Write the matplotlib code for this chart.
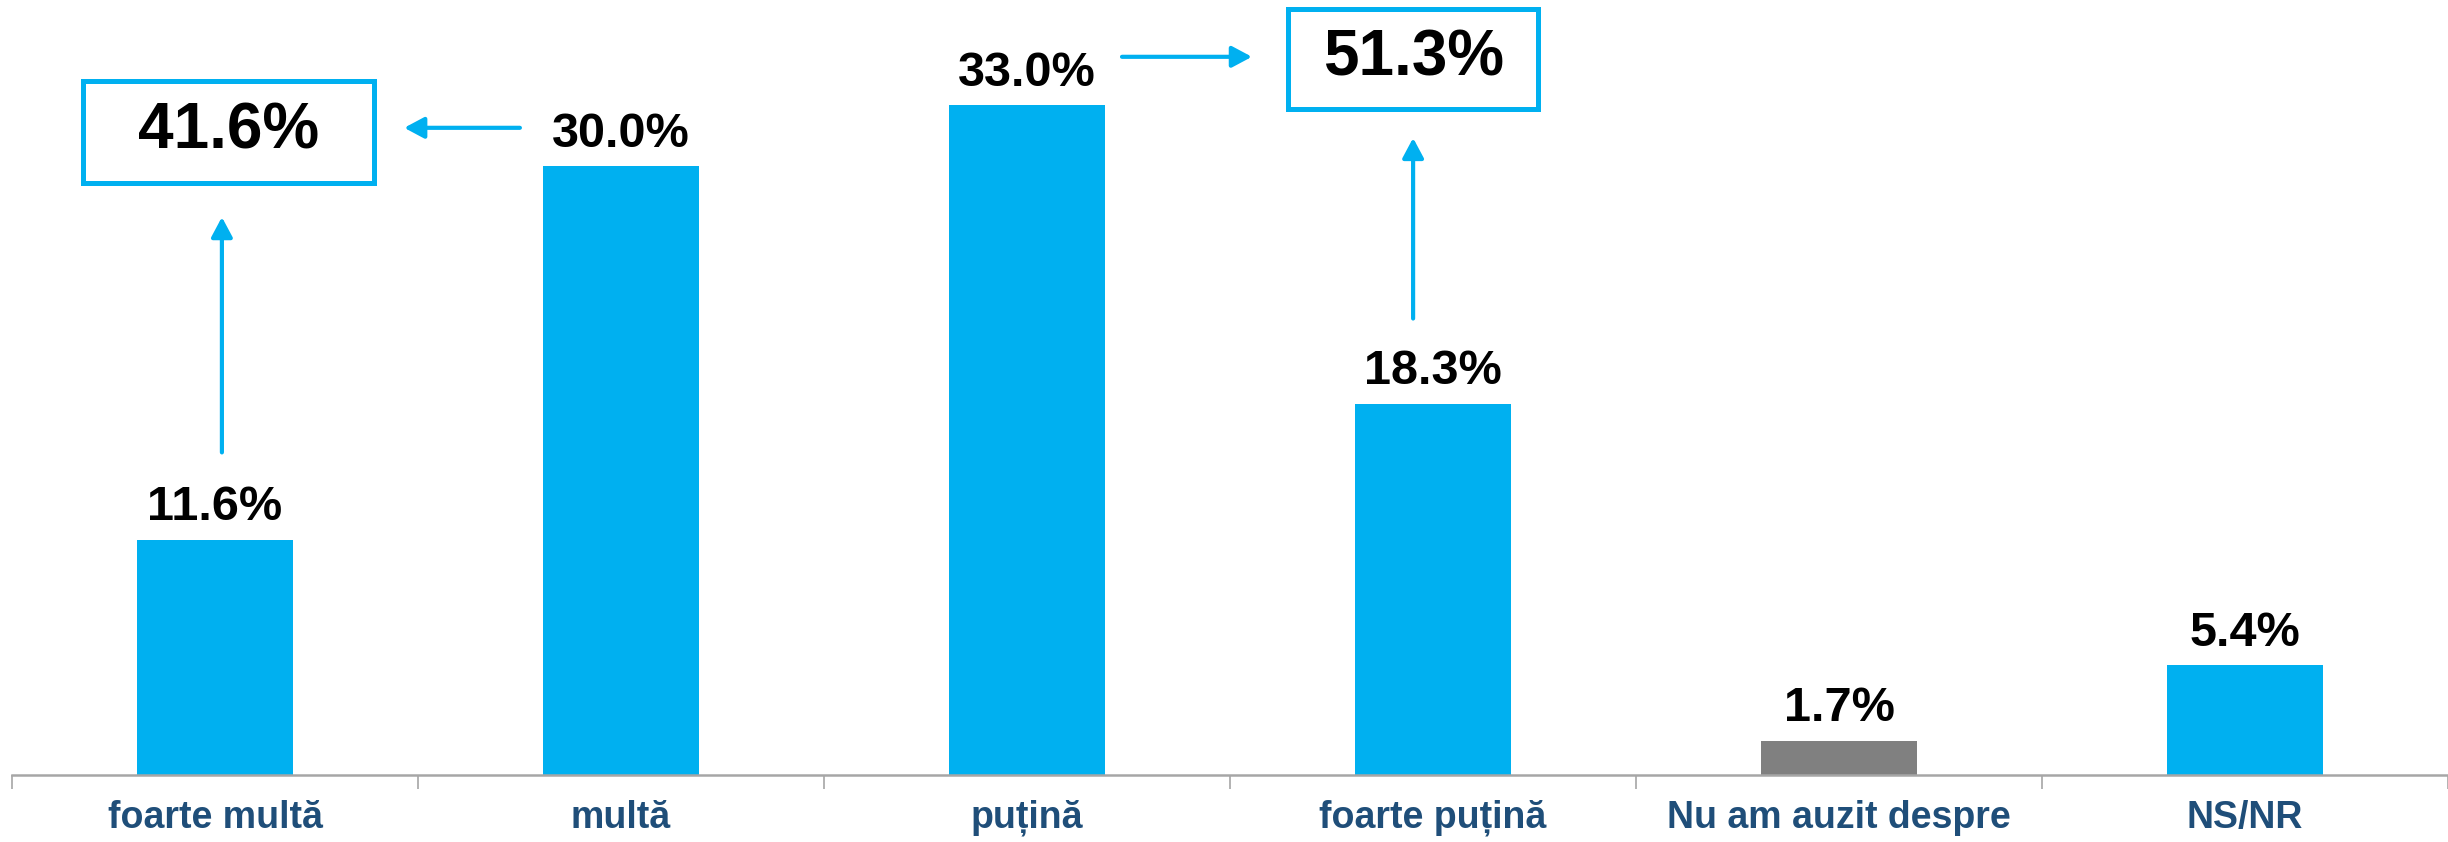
import matplotlib.pyplot as plt
from matplotlib.patches import Rectangle

plt.rcParams['font.family'] = ['Liberation Sans', 'DejaVu Sans']

# -----------------------------
# Dados
# -----------------------------
categories = ["foarte multă", "multă", "puțină", "foarte puțină",
              "Nu am auzit despre", "NS/NR"]
values = [11.6, 30.0, 33.0, 18.3, 1.7, 5.4]
bar_colors = ["#00B0F0", "#00B0F0", "#00B0F0", "#00B0F0", "#808080", "#00B0F0"]

# totais agregados (foarte multă + multă, puțină + foarte puțină)
totals = [41.6, 51.3]
total_labels = [f"{t:.1f}%" for t in totals]

blue = "#00B0F0"
label_blue = "#1F4E79"

W, H = 2448, 842
fig = plt.figure(figsize=(W / 100, H / 100), dpi=100)
ax = fig.add_axes([12 / W, 67 / H, 1 - 12 / W, 775 / H])

x = list(range(len(categories)))
ax.bar(x, values, width=0.384, color=bar_colors, zorder=2)

ax.set_xlim(-0.5, len(categories) - 0.5)
ax.set_ylim(0, 38.2)

# rótulos de valor
for xi, v in zip(x, values):
    ax.annotate(f"{v:.1f}%", (xi, v), xytext=(0, 7), textcoords="offset points",
                ha="center", va="bottom", fontsize=35, fontweight="bold", color="black")

# eixos
for s in ["top", "right", "left"]:
    ax.spines[s].set_visible(False)
ax.spines["bottom"].set_color("#A6A6A6")
ax.spines["bottom"].set_linewidth(1.8)
ax.set_yticks([])
ax.set_xticks(x)
ax.set_xticklabels(categories, fontsize=27, fontweight="bold", color=label_blue)
ax.tick_params(axis="x", which="major", length=0, pad=18)
ax.set_xticks([i - 0.5 for i in range(len(categories) + 1)], minor=True)
ax.tick_params(axis="x", which="minor", length=10, width=1.2, color="#A6A6A6")

# -----------------------------
# Caixas com totais + setas
# -----------------------------
# (centro x, centro y, largura, altura) em unidades de dados
boxes = [(0.034, 31.7, 0.717, 5.0), (2.951, 35.3, 0.616, 4.95)]
for (cx, cy, bw, bh), lab in zip(boxes, total_labels):
    ax.add_patch(Rectangle((cx - bw / 2, cy - bh / 2), bw, bh, fill=True,
                           facecolor="white", edgecolor=blue, linewidth=3.6,
                           zorder=3, clip_on=False))
    ax.text(cx, cy, lab, ha="center", va="center", fontsize=46,
            fontweight="bold", color="black", zorder=4)

arrows = [
    ((0.017, 15.9), (0.017, 27.5)),
    ((0.751, 31.9), (0.466, 31.9)),
    ((2.234, 35.4), (2.554, 35.4)),
    ((2.951, 22.5), (2.951, 31.4)),
]
for start, end in arrows:
    ax.annotate("", xy=end, xytext=start,
                arrowprops=dict(arrowstyle="-|>,head_length=0.6,head_width=0.32",
                                color=blue, lw=3, mutation_scale=20,
                                shrinkA=0, shrinkB=0),
                annotation_clip=False)

fig.savefig("out.png", dpi=100)
